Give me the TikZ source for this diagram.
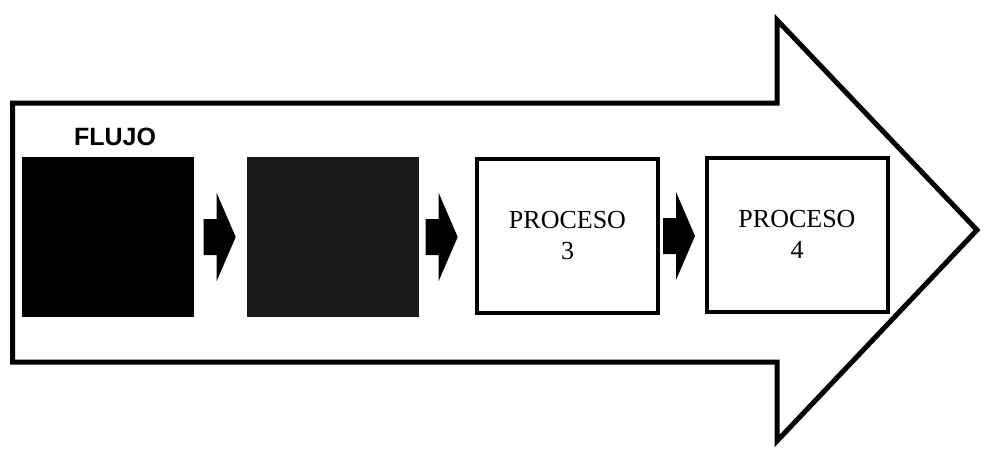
\documentclass[tikz,border=0pt]{standalone}
\usepackage{fontspec}
\setmainfont{Liberation Serif}
\setsansfont{Liberation Sans}
\usetikzlibrary{calc}
\begin{document}
\begin{tikzpicture}[x=1pt,y=-1pt,
  bigarrow/.style={draw=black,line width=5pt,fill=white,line join=miter},
  darkbox/.style={draw=none,fill=#1,minimum width=172pt,minimum height=160pt,inner sep=0pt},
  procbox/.style={draw=black,line width=4pt,fill=white,minimum width=181pt,minimum height=154pt,inner sep=0pt,align=center,font=\fontsize{26}{31}\selectfont},
  titletext/.style={font=\sffamily\bfseries\fontsize{25}{30}\selectfont,inner sep=0pt},
  blockarrow/.style={fill=black,draw=none}]
\useasboundingbox (0,0) rectangle (985,451);
% big outline arrow
\draw[bigarrow] (12.5,103) -- (777,103) -- (777,20) -- (977,230) -- (777,441) -- (777,362) -- (12.5,362) -- cycle;
% boxes
\node[darkbox=black] (b1) at (107.5,237) {};
\node[darkbox=black!90] (b2) at (332.5,237) {};
\node[procbox] (b3) at (567.5,236) {PROCESO\\3};
\node[procbox] (b4) at (797,234.5) {PROCESO\\4};
\node[titletext] (t) at (115,137) {FLUJO};
% block arrows between boxes
\foreach \a/\gap in {b1/10,b2/7,b3/3}{
  \fill[blockarrow] ($(\a.east)+(\gap,-18)$) -- ++(13,0) -- ++(0,-26) -- ++(19,44) -- ++(-19,44) -- ++(0,-26) -- ++(-13,0) -- cycle;
}
\end{tikzpicture}
\end{document}
